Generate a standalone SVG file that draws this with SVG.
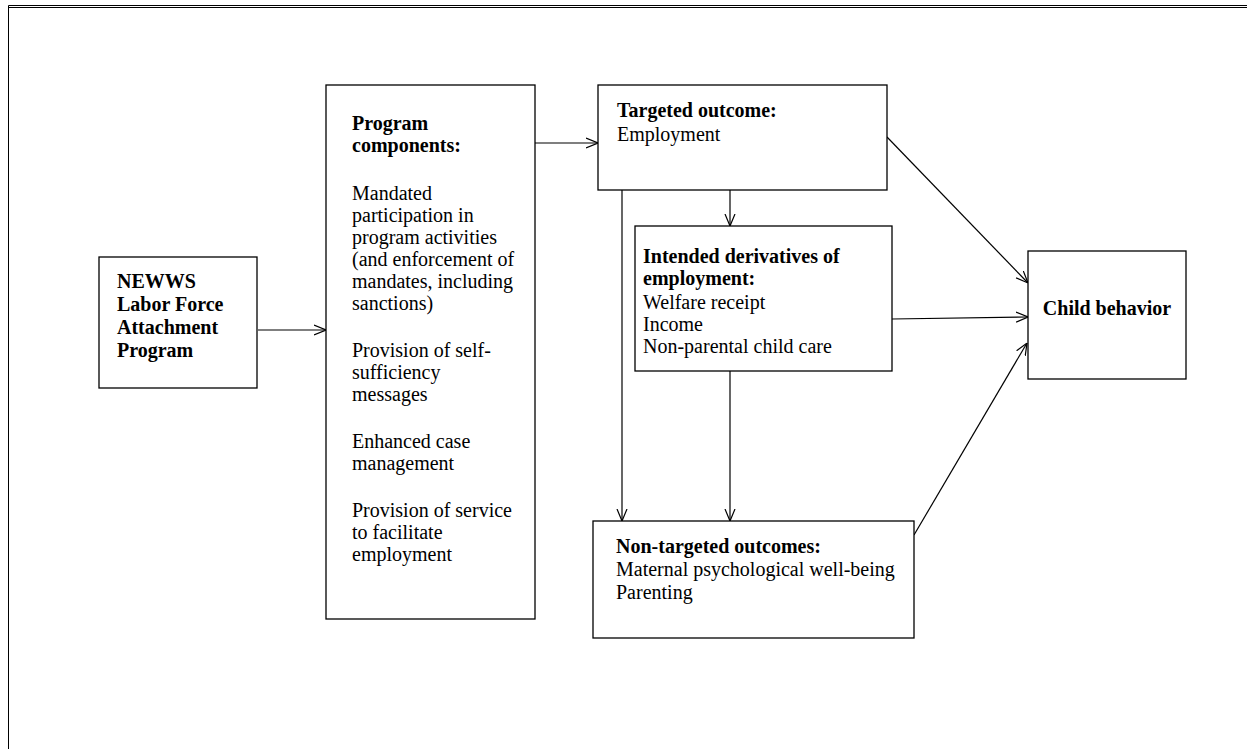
<svg xmlns="http://www.w3.org/2000/svg" width="1247" height="749" viewBox="0 0 1247 749">
<defs>
<style>
.box{fill:#fff;stroke:#000;stroke-width:1.3}
.t{font-family:"Liberation Serif","Times New Roman",serif;font-size:20px;fill:#000}
.b{font-weight:bold}
.c{stroke:#000;stroke-width:1.2;fill:none;marker-end:url(#ah)}
.frame{stroke:#000;stroke-width:1;fill:none}
</style>
<marker id="ah" viewBox="0 0 12 12" refX="12" refY="6" markerWidth="12" markerHeight="12" markerUnits="userSpaceOnUse" orient="auto">
<path d="M0,1 L12,6 L0,11" fill="none" stroke="#000" stroke-width="1.2"/>
</marker>
</defs>
<rect width="1247" height="749" fill="#fff"/>
<g id="frame">
<line class="frame" x1="8.5" y1="5.5" x2="1247" y2="5.5"/>
<line class="frame" x1="8.5" y1="7.5" x2="1247" y2="7.5"/>
<line class="frame" x1="8.5" y1="5.5" x2="8.5" y2="749"/>
</g>
<g id="connectors">
<line class="c" x1="258" y1="330" x2="326" y2="330"/>
<line class="c" x1="535" y1="143" x2="598" y2="143"/>
<line class="c" x1="730" y1="190" x2="730" y2="226"/>
<line class="c" x1="622" y1="190" x2="622" y2="521"/>
<line class="c" x1="730" y1="371" x2="730" y2="521"/>
<line class="c" x1="887" y1="137" x2="1028" y2="283"/>
<line class="c" x1="892" y1="319" x2="1028" y2="317"/>
<line class="c" x1="914" y1="535" x2="1027" y2="343"/>
</g>
<g id="newws">
<rect class="box" x="99" y="257" width="158" height="131"/>
<text class="t b" x="117" y="288">NEWWS</text>
<text class="t b" x="117" y="311">Labor Force</text>
<text class="t b" x="117" y="334">Attachment</text>
<text class="t b" x="117" y="357">Program</text>
</g>
<g id="program">
<rect class="box" x="326" y="85" width="209" height="534"/>
<text class="t b" x="352" y="130">Program</text>
<text class="t b" x="352" y="152">components:</text>
<text class="t" x="352" y="200">Mandated</text>
<text class="t" x="352" y="222">participation in</text>
<text class="t" x="352" y="244">program activities</text>
<text class="t" x="352" y="266">(and enforcement of</text>
<text class="t" x="352" y="288">mandates, including</text>
<text class="t" x="352" y="310">sanctions)</text>
<text class="t" x="352" y="357">Provision of self-</text>
<text class="t" x="352" y="379">sufficiency</text>
<text class="t" x="352" y="401">messages</text>
<text class="t" x="352" y="448">Enhanced case</text>
<text class="t" x="352" y="470">management</text>
<text class="t" x="352" y="517">Provision of service</text>
<text class="t" x="352" y="539">to facilitate</text>
<text class="t" x="352" y="561">employment</text>
</g>
<g id="targeted">
<rect class="box" x="598" y="85" width="289" height="105"/>
<text class="t b" x="617" y="117">Targeted outcome:</text>
<text class="t" x="617" y="141">Employment</text>
</g>
<g id="intended">
<rect class="box" x="635" y="226" width="257" height="145"/>
<text class="t b" x="643" y="263">Intended derivatives of</text>
<text class="t b" x="643" y="285">employment:</text>
<text class="t" x="643" y="309">Welfare receipt</text>
<text class="t" x="643" y="331">Income</text>
<text class="t" x="643" y="353">Non-parental child care</text>
</g>
<g id="nontargeted">
<rect class="box" x="593" y="521" width="321" height="117"/>
<text class="t b" x="616" y="553">Non-targeted outcomes:</text>
<text class="t" x="616" y="576">Maternal psychological well-being</text>
<text class="t" x="616" y="599">Parenting</text>
</g>
<g id="child">
<rect class="box" x="1028" y="251" width="158" height="128"/>
<text class="t b" x="1107" y="315" text-anchor="middle">Child behavior</text>
</g>
</svg>
